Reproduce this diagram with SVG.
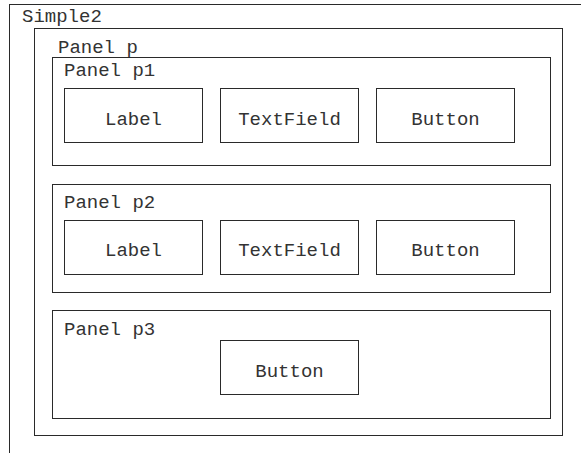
<svg xmlns="http://www.w3.org/2000/svg" width="581" height="453" viewBox="0 0 581 453">
<style>
rect{fill:none;stroke:#2a2a2a;stroke-width:1}
text{font-family:"Liberation Mono","Courier New",monospace;font-size:19px;fill:#333}
.c{text-anchor:middle}
</style>
<rect x="0" y="0" width="581" height="453" style="fill:#fff;stroke:none"/>
<g id="simple2">
<rect x="9.5" y="4.5" width="700" height="600"/>
<text x="22" y="22">Simple2</text>
</g>
<g id="panel-p">
<rect x="34.5" y="28.5" width="528" height="407"/>
<text x="58" y="53">Panel p</text>
</g>
<g id="panel-p1">
<rect x="52.5" y="57.5" width="498" height="108"/>
<text x="64" y="76">Panel p1</text>
</g>
<g id="p1-label"><rect x="64.5" y="88.5" width="138" height="54"/><text class="c" x="133.5" y="125">Label</text></g>
<g id="p1-textfield"><rect x="220.5" y="88.5" width="138" height="54"/><text class="c" x="289.5" y="125">TextField</text></g>
<g id="p1-button"><rect x="376.5" y="88.5" width="138" height="54"/><text class="c" x="445.5" y="125">Button</text></g>
<g id="panel-p2">
<rect x="52.5" y="184.5" width="498" height="108"/>
<text x="64" y="208">Panel p2</text>
</g>
<g id="p2-label"><rect x="64.5" y="220.5" width="138" height="54"/><text class="c" x="133.5" y="256">Label</text></g>
<g id="p2-textfield"><rect x="220.5" y="220.5" width="138" height="54"/><text class="c" x="289.5" y="256">TextField</text></g>
<g id="p2-button"><rect x="376.5" y="220.5" width="138" height="54"/><text class="c" x="445.5" y="256">Button</text></g>
<g id="panel-p3">
<rect x="52.5" y="310.5" width="498" height="108"/>
<text x="64" y="335">Panel p3</text>
</g>
<g id="p3-button"><rect x="220.5" y="340.5" width="138" height="54"/><text class="c" x="289.5" y="377">Button</text></g>
<g id="connectors"></g>
</svg>
